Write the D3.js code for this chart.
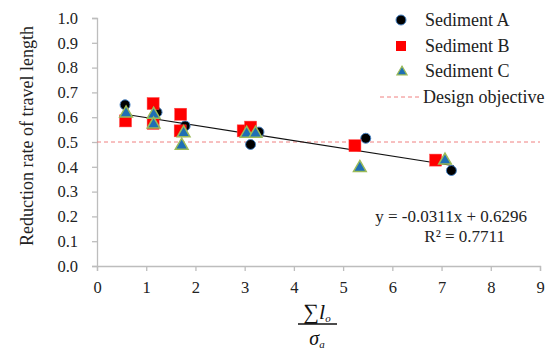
<!DOCTYPE html>
<html>
<head>
<meta charset="utf-8">
<script src="https://cdn.jsdelivr.net/npm/d3@7"></script>
<style>
  body { margin: 0; background: #fff; }
</style>
</head>
<body>
<div id="chart"></div>
<script>
// Sediment A (black circles)
const sedA = [[0.57, 0.65], [1.22, 0.62], [1.79, 0.565], [3.12, 0.49], [3.29, 0.54], [5.46, 0.515], [7.2, 0.385]];
// Sediment B (red squares)
const sedB = [[0.58, 0.585], [1.14, 0.655], [1.14, 0.575], [1.70, 0.612], [1.69, 0.545], [2.97, 0.545], [3.12, 0.56], [5.24, 0.485], [6.88, 0.427]];
// Sediment C (triangles)
const sedC = [[0.59, 0.62], [1.15, 0.615], [1.15, 0.575], [1.76, 0.54], [1.72, 0.49], [3.04, 0.538], [3.22, 0.538], [5.34, 0.40], [7.07, 0.43]];
const slope = -0.0311, intercept = 0.6296;
const trendRange = [0.6, 7.25];
const designObjective = 0.5;
const xTicks = [0, 1, 2, 3, 4, 5, 6, 7, 8, 9];
const yTicks = [0, 0.1, 0.2, 0.3, 0.4, 0.5, 0.6, 0.7, 0.8, 0.9, 1.0];
const legendItems = ['Sediment A', 'Sediment B', 'Sediment C', 'Design objective'];

const width = 560, height = 349;
const margin = {top: 18, left: 97, right: 20, bottom: 83};
const serif = '"Liberation Serif"';

const svg = d3.select('#chart').append('svg')
  .attr('width', width)
  .attr('height', height);

const x = d3.scaleLinear().domain([0, 9]).range([margin.left, 540]);
const y = d3.scaleLinear().domain([0, 1]).range([266, margin.top]);

// axes
const xAxis = svg.append('g')
  .attr('transform', 'translate(0,' + y(0) + ')')
  .call(d3.axisBottom(x).tickValues(xTicks).tickSize(5).tickPadding(10).tickFormat(d3.format('d')));
const yAxis = svg.append('g')
  .attr('transform', 'translate(' + x(0) + ',0)')
  .call(d3.axisLeft(y).tickValues(yTicks).tickSize(5).tickPadding(14).tickFormat(d3.format('.1f')));
[xAxis, yAxis].forEach(a => {
  a.attr('font-family', null).attr('font-size', null);
  a.select('.domain').attr('stroke', '#bdbdbd').attr('stroke-width', 1.3);
  a.selectAll('.tick line').attr('stroke', '#bdbdbd').attr('stroke-width', 1.3);
  a.selectAll('.tick text')
    .style('font-family', serif)
    .style('font-size', '16.5px')
    .attr('fill', '#222');
});

// design objective line
svg.append('line')
  .attr('x1', x(0)).attr('x2', x(9))
  .attr('y1', y(designObjective)).attr('y2', y(designObjective))
  .attr('stroke', '#f08080').attr('stroke-width', 1).attr('stroke-dasharray', '4,3');

// trend line
svg.append('line')
  .attr('x1', x(trendRange[0])).attr('y1', y(slope * trendRange[0] + intercept))
  .attr('x2', x(trendRange[1])).attr('y2', y(slope * trendRange[1] + intercept))
  .attr('stroke', '#111').attr('stroke-width', 1.2);

// markers
const tri = d3.symbol().type(d3.symbolTriangle).size(70);

svg.append('g').selectAll('circle')
  .data(sedA).enter().append('circle')
  .attr('cx', d => x(d[0])).attr('cy', d => y(d[1]))
  .attr('r', 5)
  .attr('fill', '#000').attr('stroke', '#4a86c8').attr('stroke-width', 1);

svg.append('g').selectAll('rect')
  .data(sedB).enter().append('rect')
  .attr('x', d => x(d[0]) - 6).attr('y', d => y(d[1]) - 6)
  .attr('width', 12).attr('height', 12)
  .attr('fill', '#f00').attr('stroke', '#f44').attr('stroke-width', 0.5);

svg.append('g').selectAll('path')
  .data(sedC).enter().append('path')
  .attr('d', tri)
  .attr('transform', d => 'translate(' + x(d[0]) + ',' + (y(d[1]) + 1) + ')')
  .attr('fill', '#1f6fb5').attr('stroke', '#9bbb59').attr('stroke-width', 1.5);

// legend
const lg = svg.append('g');
const ly = [20, 46, 71, 97];
lg.append('circle').attr('cx', 401).attr('cy', ly[0]).attr('r', 5).attr('fill', '#000').attr('stroke', '#4a86c8');
lg.append('rect').attr('x', 396).attr('y', ly[1] - 5).attr('width', 10).attr('height', 10).attr('fill', '#f00');
lg.append('path').attr('d', d3.symbol().type(d3.symbolTriangle).size(45))
  .attr('transform', 'translate(402,' + (ly[2] + 1) + ')')
  .attr('fill', '#1f6fb5').attr('stroke', '#9bbb59').attr('stroke-width', 1.2);
lg.append('line').attr('x1', 380).attr('x2', 422).attr('y1', ly[3]).attr('y2', ly[3])
  .attr('stroke', '#f08080').attr('stroke-dasharray', '4,3');
lg.selectAll('text.lab')
  .data(legendItems).enter().append('text')
  .attr('class', 'lab')
  .attr('x', (d, i) => i === 3 ? 423 : 425)
  .attr('y', (d, i) => ly[i] + 6)
  .style('font-family', serif)
  .style('font-size', '18px')
  .attr('fill', '#222')
  .text(d => d);

// regression text
svg.append('text').attr('x', 527).attr('y', 222).attr('text-anchor', 'end')
  .style('font-family', serif).style('font-size', '17px').attr('fill', '#222')
  .text('y = -0.0311x + 0.6296');
svg.append('text').attr('x', 505).attr('y', 242).attr('text-anchor', 'end')
  .style('font-family', serif).style('font-size', '17px').attr('fill', '#222')
  .text('R² = 0.7711');

// y axis title
svg.append('text')
  .attr('transform', 'translate(33,136) rotate(-90)')
  .attr('text-anchor', 'middle')
  .style('font-family', serif)
  .style('font-size', '18px')
  .attr('fill', '#222')
  .text('Reduction rate of travel length');

// x axis title: fraction
const fx = 317;
const num = svg.append('text').attr('x', fx).attr('y', 319).attr('text-anchor', 'middle')
  .style('font-family', serif).style('font-size', '22px').attr('fill', '#111');
num.append('tspan').text('∑');
num.append('tspan').style('font-style', 'italic').text('l');
num.append('tspan').attr('dy', 3).style('font-size', '11px').style('font-style', 'italic').text('o');
svg.append('line').attr('x1', fx - 19).attr('x2', fx + 20).attr('y1', 324).attr('y2', 324)
  .attr('stroke', '#111').attr('stroke-width', 1.3);
const den = svg.append('text').attr('x', fx).attr('y', 345).attr('text-anchor', 'middle')
  .style('font-family', serif).style('font-size', '20px').attr('fill', '#111');
den.append('tspan').style('font-style', 'italic').text('σ');
den.append('tspan').attr('dy', 3).style('font-size', '11px').style('font-style', 'italic').text('a');
</script>
</body>
</html>
